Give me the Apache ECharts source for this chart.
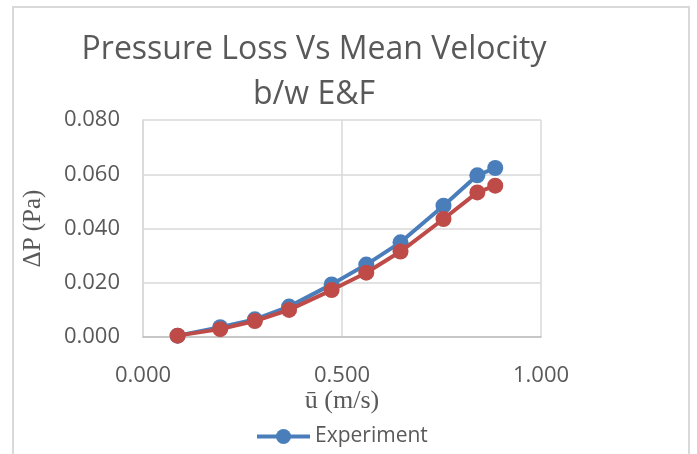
<!DOCTYPE html>
<html>
<head>
<meta charset="utf-8">
<script src="https://cdn.jsdelivr.net/npm/echarts@6/dist/echarts.min.js"></script>
<style>
  html, body { margin: 0; padding: 0; background: #ffffff; }
  #chart { width: 697px; height: 454px; }
</style>
</head>
<body>
<div id="chart"></div>
<script>
// Mean velocity (m/s) and pressure loss (Pa) between tappings E and F
const velocity = [0.087, 0.194, 0.281, 0.367, 0.474, 0.561, 0.647, 0.755, 0.840, 0.885];
const experimentDP = [0.0005, 0.0036, 0.0065, 0.0112, 0.0194, 0.0267, 0.0349, 0.0484, 0.0596, 0.0623];
const theoryDP = [0.0005, 0.0029, 0.0059, 0.0100, 0.0173, 0.0237, 0.0315, 0.0435, 0.0533, 0.0558];

const titleLines = ['Pressure Loss Vs Mean Velocity', 'b/w E&F'];
const xTicks = [0, 0.5, 1.0];
const yTicks = [0, 0.02, 0.04, 0.06, 0.08];

const textColor = '#595959';
const uiFont = '"Open Sans", "Noto Sans", sans-serif';
const serifFont = '"Liberation Serif", "DejaVu Serif", serif';

const pairs = (xs, ys) => xs.map((x, i) => [x, ys[i]]);

const chart = echarts.init(document.getElementById('chart'), null, { renderer: 'canvas' });

chart.setOption({
  backgroundColor: '#ffffff',
  animation: false,
  graphic: [
    {
      type: 'rect',
      shape: { x: 13, y: 7, width: 676, height: 470 },
      style: { fill: 'none', stroke: '#d9d9d9', lineWidth: 2 },
      silent: true
    },
    {
      type: 'text',
      x: 314, y: 50,
      style: {
        text: titleLines[0], fill: textColor, font: '32px ' + uiFont,
        textAlign: 'center', textVerticalAlign: 'middle'
      }
    },
    {
      type: 'text',
      x: 314, y: 95,
      style: {
        text: titleLines[1], fill: textColor, font: '32px ' + uiFont,
        textAlign: 'center', textVerticalAlign: 'middle'
      }
    }
  ],
  grid: { left: 143, right: 156, top: 120, bottom: 117, containLabel: false },
  legend: {
    data: ['Experiment'],
    left: 250, top: 421,
    itemWidth: 53, itemHeight: 19, itemGap: 5,
    lineStyle: { width: 4 },
    textStyle: { color: textColor, fontSize: 21, fontFamily: uiFont }
  },
  xAxis: {
    type: 'value',
    min: 0, max: 1, interval: 0.5,
    name: 'ū (m/s)',
    nameLocation: 'middle',
    nameGap: 45,
    nameTextStyle: { color: textColor, fontSize: 26, fontFamily: serifFont },
    axisLine: { show: true, lineStyle: { color: '#bfbfbf', width: 1.5 } },
    axisTick: { show: false },
    axisLabel: {
      color: textColor, fontSize: 22, fontFamily: uiFont, margin: 28,
      formatter: v => xTicks.includes(v) ? v.toFixed(3) : ''
    },
    splitLine: { show: true, lineStyle: { color: '#d9d9d9', width: 1.5 } }
  },
  yAxis: {
    type: 'value',
    min: 0, max: 0.08, interval: 0.02,
    name: 'ΔP (Pa)',
    nameLocation: 'middle',
    nameGap: 97,
    nameTextStyle: { color: textColor, fontSize: 25, fontFamily: serifFont },
    axisLine: { show: true, lineStyle: { color: '#d9d9d9', width: 1.5 } },
    axisTick: { show: false },
    axisLabel: {
      color: textColor, fontSize: 22, fontFamily: uiFont, margin: 23,
      formatter: v => yTicks.some(t => Math.abs(t - v) < 1e-9) ? v.toFixed(3) : ''
    },
    splitLine: { show: true, lineStyle: { color: '#d9d9d9', width: 1.5 } }
  },
  series: [
    {
      name: 'Experiment',
      type: 'line',
      data: pairs(velocity, experimentDP),
      symbol: 'circle',
      symbolSize: 16,
      lineStyle: { color: '#4a7ebb', width: 4 },
      itemStyle: { color: '#4a7ebb' },
      z: 2
    },
    {
      name: 'Theory',
      type: 'line',
      data: pairs(velocity, theoryDP),
      symbol: 'circle',
      symbolSize: 16,
      lineStyle: { color: '#be4b48', width: 4 },
      itemStyle: { color: '#be4b48' },
      z: 3
    }
  ]
});
</script>
</body>
</html>
